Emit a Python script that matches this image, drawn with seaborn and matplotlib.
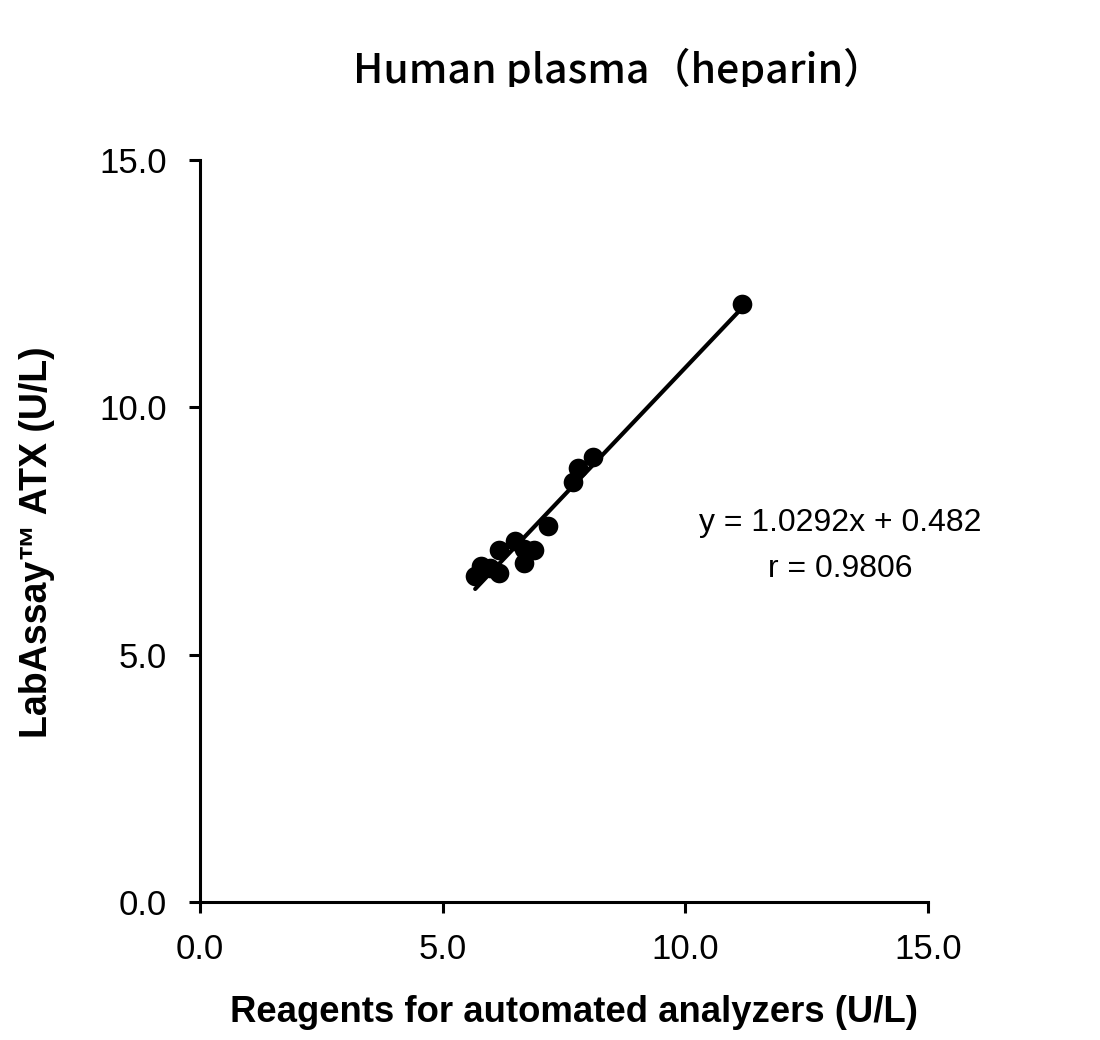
import numpy as np
import pandas as pd
import matplotlib
matplotlib.use("Agg")
import matplotlib.pyplot as plt
import seaborn as sns
from matplotlib.transforms import Bbox, TransformedBbox

# data
reagent = [5.67, 5.79, 5.98, 6.16, 6.16, 6.49, 6.68, 6.68, 6.88, 7.17, 7.69, 7.79, 8.10, 11.17]
labassay = [6.59, 6.79, 6.75, 6.65, 7.12, 7.30, 7.14, 6.85, 7.12, 7.60, 8.49, 8.77, 9.00, 12.09]
ticks = [0, 5, 10, 15]
title = "Human plasma（heparin）"
eq_text = "y = 1.0292x + 0.482\nr = 0.9806"

df = pd.DataFrame({"x": reagent, "y": labassay})

sns.set_style("white")
plt.rcParams['font.family'] = ['Liberation Sans', 'DejaVu Sans']
plt.rcParams['text.color'] = 'black'
plt.rcParams['axes.labelcolor'] = 'black'

fig = plt.figure(figsize=(11, 10.4), dpi=100)
ax = fig.add_axes([200 / 1100, 1 - 902 / 1040, 728 / 1100, 742 / 1040])

sns.regplot(data=df, x="x", y="y", ax=ax, ci=None, truncate=True,
            scatter_kws=dict(s=200, color="black", alpha=1, linewidths=0, zorder=3),
            line_kws=dict(color="black", lw=3))

ax.set_xlim(0, 15)
ax.set_ylim(0, 15)
ax.set_xticks(ticks)
ax.set_yticks(ticks)
ax.set_xticklabels([f"{t:.1f}" for t in ticks], fontsize=25)
ax.set_yticklabels([f"{t:.1f}" for t in ticks], fontsize=25)
ax.tick_params(bottom=True, left=True, direction="out", length=8, width=2.2,
               color="black", labelcolor="black")
ax.tick_params(axis="y", pad=16)
ax.tick_params(axis="x", pad=14)
for side in ["top", "right"]:
    ax.spines[side].set_visible(False)
for side in ["left", "bottom"]:
    ax.spines[side].set_linewidth(2.2)
    ax.spines[side].set_color("black")

ax.set_xlabel("Reagents for automated analyzers (U/L)", fontsize=26.3, fontweight="bold")
ax.set_ylabel("LabAssay™ ATX (U/L)", fontsize=27, fontweight="bold")
ax.xaxis.set_label_coords(0.514, -0.125)
ax.yaxis.set_label_coords(-0.199, 0.485)

ax.text(13.2, 7.19, eq_text, ha="center", va="center", fontsize=23, linespacing=1.7)

# title is cut just under the baseline in the original
t = fig.text(619 / 1100, 1 - 83 / 1040, title, ha="center", va="baseline", fontsize=29.5,
             fontweight="medium", family=['Noto Sans CJK JP', 'DejaVu Sans'])
t.set_clip_box(TransformedBbox(Bbox([[0, 1 - 87 / 1040], [1, 1]]), fig.transFigure))
t.set_clip_on(True)

fig.savefig("out.png", dpi=100, facecolor="white")
